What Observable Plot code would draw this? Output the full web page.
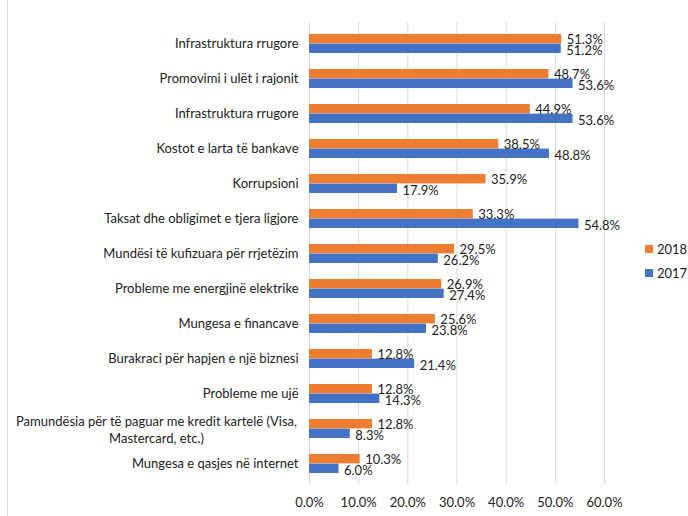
<!DOCTYPE html>
<html>
<head>
<meta charset="utf-8">
<script src="https://cdn.jsdelivr.net/npm/d3@7"></script>
<script src="https://cdn.jsdelivr.net/npm/@observablehq/plot@0.6"></script>
<style>
  html, body { margin: 0; padding: 0; background: #fff; }
  #wrap { position: relative; width: 688px; height: 516px; overflow: hidden; font-family: Lato, sans-serif; }
  #border { position: absolute; left: 7px; top: 0; width: 0; height: 516px; border-left: 1px solid #d9d9d9; }
  #legend { position: absolute; left: 645px; top: 237px; font-size: 13px; color: #222; }
  .li { display: flex; align-items: center; height: 24px; }
  .sw { width: 8px; height: 8px; margin-right: 4px; }
  svg { position: absolute; left: 0; top: 0; }
</style>
</head>
<body>
<div id="wrap"><div id="border"></div><div id="legend"></div></div>
<script>
const categories = [
  "Infrastruktura rrugore",
  "Promovimi i ulët i rajonit",
  "Infrastruktura rrugore ",
  "Kostot e larta të bankave",
  "Korrupsioni",
  "Taksat dhe obligimet e tjera ligjore",
  "Mundësi të kufizuara për rrjetëzim",
  "Probleme me energjinë elektrike",
  "Mungesa e financave",
  "Burakraci për hapjen e një biznesi",
  "Probleme me ujë",
  "Pamundësia për të paguar me kredit kartelë (Visa,\nMastercard, etc.)",
  "Mungesa e qasjes në internet"
];
const values2018 = [0.513, 0.487, 0.449, 0.385, 0.359, 0.333, 0.295, 0.269, 0.256, 0.128, 0.128, 0.128, 0.103];
const values2017 = [0.512, 0.536, 0.536, 0.488, 0.179, 0.548, 0.262, 0.274, 0.238, 0.214, 0.143, 0.083, 0.060];
const seriesNames = ["2018", "2017"];
const seriesColors = ["#ED7D31", "#4472C4"];
const xTicks = [0, 0.1, 0.2, 0.3, 0.4, 0.5, 0.6];

const rows2018 = categories.map((c, i) => ({cat: c, series: "2018", value: values2018[i]}));
const rows2017 = categories.map((c, i) => ({cat: c, series: "2017", value: values2017[i]}));
const singleLine = categories.filter(c => !c.includes("\n"));
const multiLine = categories.filter(c => c.includes("\n"));

const height = 516, marginTop = 22, marginBottom = 32;
const pin = 0.46, pout = 0.23;
const step = (height - marginTop - marginBottom) / (categories.length - pin + 2 * pout);
const half = step * (1 - pin) / 2;
const fmt = d3.format(".1%");

const chart = Plot.plot({
  width: 688,
  height,
  marginTop,
  marginBottom,
  marginLeft: 309,
  marginRight: 84,
  style: {fontFamily: "Lato, sans-serif", fontSize: "13px", color: "#222", background: "transparent"},
  x: {domain: [0, 0.6], ticks: xTicks, tickFormat: fmt, tickSize: 0, tickPadding: 13, label: null},
  y: {domain: categories, paddingInner: pin, paddingOuter: pout, label: null},
  color: {domain: seriesNames, range: seriesColors},
  marks: [
    Plot.gridX(xTicks, {stroke: "#d9d9d9", strokeOpacity: 1, strokeWidth: 1}),
    Plot.axisY(singleLine, {tickSize: 0, tickPadding: 11, label: null, tickFormat: d => d.trim(), fill: "#222"}),
    Plot.axisY(multiLine, {tickSize: 0, tickPadding: 11, label: null, textAnchor: "middle", dx: -142, fill: "#222", lineHeight: 1.3}),
    Plot.barX(rows2018, {x: "value", y: "cat", fill: "series", insetBottom: half}),
    Plot.barX(rows2017, {x: "value", y: "cat", fill: "series", insetTop: half}),
    Plot.text(rows2018, {x: "value", y: "cat", text: d => fmt(d.value), textAnchor: "start", dx: 5, dy: -4, fill: "#222", fontSize: 13}),
    Plot.text(rows2017, {x: "value", y: "cat", text: d => fmt(d.value), textAnchor: "start", dx: 5, dy: 7, fill: "#222", fontSize: 13})
  ]
});
document.getElementById("wrap").appendChild(chart);

const legend = document.getElementById("legend");
seriesNames.forEach((s, i) => {
  const row = document.createElement("div");
  row.className = "li";
  row.innerHTML = `<div class="sw" style="background:${seriesColors[i]}"></div><span>${s}</span>`;
  legend.appendChild(row);
});
</script>
</body>
</html>
